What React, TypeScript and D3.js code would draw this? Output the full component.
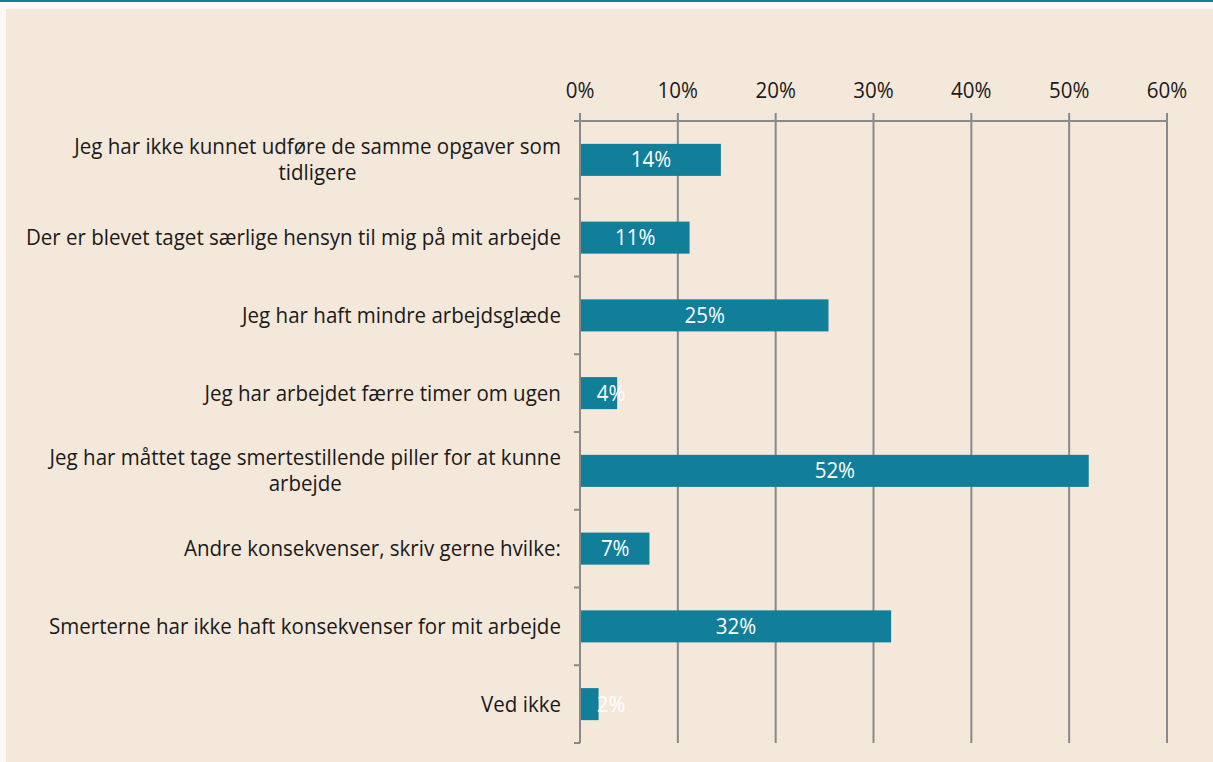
import React, { useMemo } from "react";
import * as d3 from "d3";

const categories: string[] = [
  "Jeg har ikke kunnet udføre de samme opgaver som tidligere",
  "Der er blevet taget særlige hensyn til mig på mit arbejde",
  "Jeg har haft mindre arbejdsglæde",
  "Jeg har arbejdet færre timer om ugen",
  "Jeg har måttet tage smertestillende piller for at kunne arbejde",
  "Andre konsekvenser, skriv gerne hvilke:",
  "Smerterne har ikke haft konsekvenser for mit arbejde",
  "Ved ikke",
];
const values: number[] = [0.144, 0.112, 0.254, 0.038, 0.52, 0.071, 0.318, 0.019];
const tickValues: number[] = [0, 0.1, 0.2, 0.3, 0.4, 0.5, 0.6];

const W = 1213;
const H = 762;
const FONT = "'Open Sans', 'Noto Sans', sans-serif";
const FS = 21.5;
const SX = 0.955;
const TEAL = "#117E9A";
const GRID = "#898989";
const BG = "#F4E8DB";

let ctx: CanvasRenderingContext2D | null = null;
function measure(text: string): number {
  if (!ctx) ctx = document.createElement("canvas").getContext("2d");
  if (!ctx) return text.length * FS * 0.5 * SX;
  ctx.font = `${FS}px 'Open Sans'`;
  return ctx.measureText(text).width * SX;
}

function wrap(text: string, maxW: number): string[] {
  const words = text.split(" ");
  const lines: string[] = [];
  let cur = "";
  for (const w of words) {
    const t = cur ? cur + " " + w : w;
    if (measure(t) > maxW && cur) {
      lines.push(cur);
      cur = w;
    } else cur = t;
  }
  if (cur) lines.push(cur);
  return lines;
}

function T(props: { x: number; y: number; fill: string; anchor?: string; children: React.ReactNode }) {
  return (
    <text
      transform={`translate(${props.x},${props.y}) scale(${SX},1)`}
      textAnchor={props.anchor || "middle"}
      fontSize={FS}
      fill={props.fill}
    >
      {props.children}
    </text>
  );
}

export default function App() {
  const x = d3.scaleLinear().domain([0, 0.6]).range([580, 1167]);
  const y = d3
    .scaleBand<string>()
    .domain(categories)
    .range([121, 743])
    .paddingInner(0.588)
    .paddingOuter(0.294);
  const step = y.step();
  const fmt = d3.format(".0%");

  const wrapped = useMemo(() => categories.map((c) => wrap(c, 556)), []);
  const boundaries = d3.range(categories.length + 1).map((i) => 121 + i * step);

  return (
    <svg
      width={W}
      height={H}
      style={{ position: "absolute", left: 0, top: 0, display: "block" }}
      fontFamily={FONT}
    >
      <rect x={0} y={0} width={W} height={H} fill="#FCF9F5" />
      <rect x={6} y={9} width={W - 6} height={H - 9} fill={BG} />
      <rect x={0} y={0} width={W} height={2} fill={TEAL} />

      {tickValues.map((t) => (
        <line key={"g" + t} x1={x(t)} x2={x(t)} y1={113} y2={743} stroke={GRID} strokeWidth={2} />
      ))}
      <line x1={574} x2={x(0.6) + 1} y1={121} y2={121} stroke={GRID} strokeWidth={2} />
      {boundaries.map((b, i) => (
        <line key={"t" + i} x1={574} x2={580} y1={b} y2={b} stroke={GRID} strokeWidth={2} />
      ))}
      {tickValues.map((t) => (
        <T key={"l" + t} x={x(t)} y={98} fill="#1a1a1a">
          {fmt(t)}
        </T>
      ))}

      {categories.map((c, i) => {
        const y0 = y(c)!;
        const x0 = x(0) + 1;
        const x1 = x(values[i]);
        const mid = Math.max((x0 + x1) / 2, x(0) + 31);
        return (
          <g key={"b" + i}>
            <rect x={x0} y={y0} width={x1 - x0} height={y.bandwidth()} fill={TEAL} />
            <T x={mid} y={y0 + y.bandwidth() / 2 + 7.5} fill="#ffffff">
              {fmt(values[i])}
            </T>
          </g>
        );
      })}

      {categories.map((c, i) => {
        const lines = wrapped[i];
        const cy = y(c)! + y.bandwidth() / 2;
        const widths = lines.map(measure);
        const maxW = Math.max(...widths);
        const right = 561;
        const cx = right - maxW / 2;
        const lh = 26;
        return (
          <g key={"c" + i}>
            {lines.map((ln, j) => (
              <T key={j} x={cx} y={cy + (j - (lines.length - 1) / 2) * lh + 7.5} fill="#1a1a1a">
                {ln}
              </T>
            ))}
          </g>
        );
      })}
    </svg>
  );
}
